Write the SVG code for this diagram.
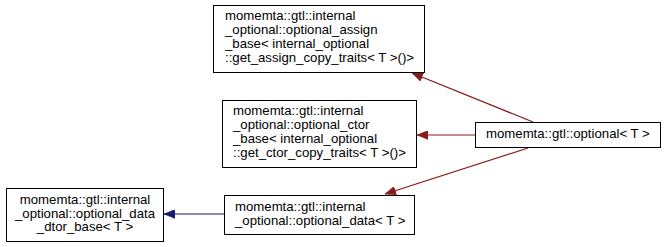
<svg xmlns="http://www.w3.org/2000/svg" width="667" height="247" viewBox="0 0 667 247">
  <style>
    .box { fill: #ffffff; stroke: #000000; stroke-width: 1; }
    .lbl { font-family: "Liberation Sans", Arial, Helvetica, sans-serif; font-size: 13.2px; fill: #000000; }
    .inh { fill: none; stroke: #8b1a1a; stroke-width: 1.2; }
    .pub { fill: none; stroke: #191970; stroke-width: 1.2; }
  </style>
  <defs>
    <marker id="arrRed" markerWidth="12" markerHeight="9" refX="11" refY="4.5" orient="auto" markerUnits="userSpaceOnUse">
      <polygon points="0,0 11,4.5 0,9" fill="#8b1a1a" stroke="#8b1a1a" stroke-width="0.5"/>
    </marker>
    <marker id="arrBlue" markerWidth="12" markerHeight="9" refX="11" refY="4.5" orient="auto" markerUnits="userSpaceOnUse">
      <polygon points="0,0 11,4.5 0,9" fill="#191970" stroke="#191970" stroke-width="0.5"/>
    </marker>
  </defs>
  <rect width="667" height="247" fill="#ffffff"/>

  <g id="connectors">
    <path class="inh" d="M533,122 L412,73" marker-end="url(#arrRed)"/>
    <path class="inh" d="M475,135 L417,135" marker-end="url(#arrRed)"/>
    <path class="inh" d="M528,148 L385,194" marker-end="url(#arrRed)"/>
    <path class="pub" d="M224,214 L164,214" marker-end="url(#arrBlue)"/>
  </g>

  <g id="node-optional-assign-base">
    <rect class="box" x="213.5" y="5.5" width="211" height="67"/>
    <text class="lbl" x="225" y="20">momemta::gtl::internal</text>
    <text class="lbl" x="225" y="34">_optional::optional_assign</text>
    <text class="lbl" x="225" y="48">_base&lt; internal_optional</text>
    <text class="lbl" x="225" y="62">::get_assign_copy_traits&lt; T &gt;()&gt;</text>
  </g>

  <g id="node-optional-ctor-base">
    <rect class="box" x="222.5" y="100.5" width="194" height="67"/>
    <text class="lbl" x="233" y="115">momemta::gtl::internal</text>
    <text class="lbl" x="233" y="129">_optional::optional_ctor</text>
    <text class="lbl" x="233" y="143">_base&lt; internal_optional</text>
    <text class="lbl" x="233" y="157">::get_ctor_copy_traits&lt; T &gt;()&gt;</text>
  </g>

  <g id="node-optional-data-dtor-base">
    <rect class="box" x="6.5" y="188.5" width="157" height="53"/>
    <text class="lbl" x="85" y="204" text-anchor="middle">momemta::gtl::internal</text>
    <text class="lbl" x="85" y="217.5" text-anchor="middle">_optional::optional_data</text>
    <text class="lbl" x="85" y="231" text-anchor="middle">_dtor_base&lt; T &gt;</text>
  </g>

  <g id="node-optional-data">
    <rect class="box" x="224.5" y="195.5" width="190" height="39"/>
    <text class="lbl" x="235" y="211">momemta::gtl::internal</text>
    <text class="lbl" x="235" y="225">_optional::optional_data&lt; T &gt;</text>
  </g>

  <g id="node-optional">
    <rect class="box" x="475.5" y="122.5" width="185" height="25"/>
    <text class="lbl" x="486" y="138">momemta::gtl::optional&lt; T &gt;</text>
  </g>
</svg>
